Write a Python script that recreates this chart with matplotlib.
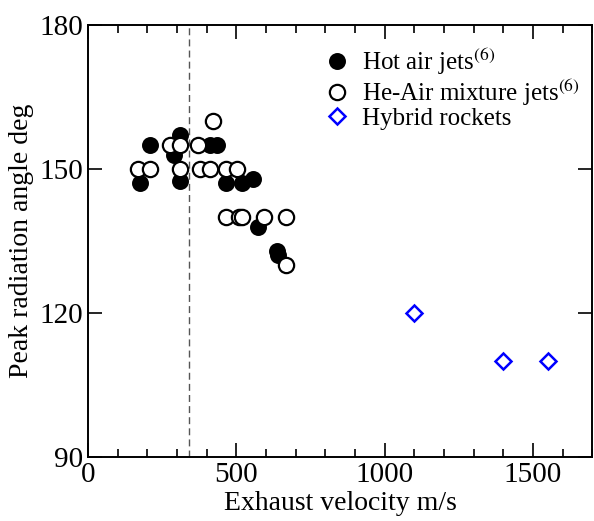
import matplotlib
matplotlib.use("Agg")
import matplotlib.pyplot as plt
from matplotlib.ticker import MultipleLocator

plt.rcParams['font.family'] = ['Liberation Serif', 'DejaVu Serif']
plt.rcParams['mathtext.fontset'] = 'stix'

# ---- data ----
hot_vel = [175, 210, 290, 310, 310, 413, 436, 464, 520, 558, 574, 636, 640]
hot_ang = [147, 155, 153, 157, 147.5, 155, 155, 147, 147, 148, 138, 133, 132]

he_vel = [170, 210, 276, 310, 372, 310, 378, 410, 422, 464, 503,
          464, 509, 520, 593, 667, 667]
he_ang = [150, 150, 155, 155, 155, 150, 150, 150, 160, 150, 150,
          140, 140, 140, 140, 140, 130]

rocket_vel = [1100, 1400, 1550]
rocket_ang = [120, 110, 110]

sound_speed = 340

fig = plt.figure(figsize=(5.94, 5.21), dpi=100)
ax = fig.add_axes([0.148, 0.123, 0.849, 0.829])

ax.axvline(sound_speed, color='#555555', linestyle=(0, (5, 3)), linewidth=1.0, zorder=1)

ax.plot(hot_vel, hot_ang, 'o', color='black', markersize=11,
        markeredgewidth=1.2, label='Hot air jets$^{(6)}$', zorder=3)
ax.plot(he_vel, he_ang, 'o', markerfacecolor='white', markeredgecolor='black',
        markersize=11, markeredgewidth=1.6,
        label='He-Air mixture jets$^{(6)}$', zorder=4)
ax.plot(rocket_vel, rocket_ang, 'D', markerfacecolor='none', markeredgecolor='#0000ff',
        markersize=8.5, markeredgewidth=1.8, label='Hybrid rockets', zorder=4)

ax.set_xlim(0, 1700)
ax.set_ylim(90, 180)
ax.xaxis.set_major_locator(MultipleLocator(500))
ax.xaxis.set_minor_locator(MultipleLocator(100))
ax.yaxis.set_major_locator(MultipleLocator(30))
ax.tick_params(which='both', direction='in', top=True, right=True,
               labelsize=21, width=1.2)
ax.tick_params(which='major', length=10)
ax.tick_params(which='minor', length=6)
for s in ax.spines.values():
    s.set_linewidth(1.4)

ax.set_xlabel('Exhaust velocity m/s', fontsize=20, labelpad=2)
ax.set_ylabel('Peak radiation angle deg', fontsize=20, labelpad=4)

ax.legend(loc='upper right', bbox_to_anchor=(1.01, 0.99), frameon=False,
          fontsize=18, handletextpad=0.5, borderaxespad=0.3,
          labelspacing=0.0, handlelength=1.0)

fig.savefig('out.png', dpi=100)
